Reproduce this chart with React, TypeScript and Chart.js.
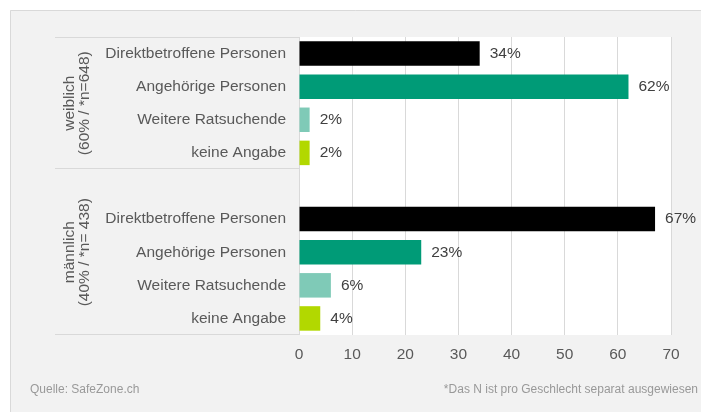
import React, { useEffect, useRef } from 'react';
import { Chart, registerables } from 'chart.js';

Chart.register(...registerables);

const categories = [
  'Direktbetroffene Personen',
  'Angehörige Personen',
  'Weitere Ratsuchende',
  'keine Angabe',
  '',
  'Direktbetroffene Personen',
  'Angehörige Personen',
  'Weitere Ratsuchende',
  'keine Angabe',
];
const values: (number | null)[] = [34, 62, 2, 2, null, 67, 23, 6, 4];
const barColors = ['#000000', '#009B77', '#7FCAB7', '#B2D800', '#ffffff', '#000000', '#009B77', '#7FCAB7', '#B2D800'];
const groupLabels = [
  ['weiblich', '(60% / *n=648)'],
  ['männlich', '(40% / *n= 438)'],
];
const groupRanges = [
  [0, 3],
  [4, 8],
];
const xMin = 0;
const xMax = 70;
const xStep = 10;
const sourceText = 'Quelle: SafeZone.ch';
const noteText = '*Das N ist pro Geschlecht separat ausgewiesen';

const FONT = '"Liberation Sans", Arial, sans-serif';
const FS = 15.5;

const decorPlugin = {
  id: 'decor',
  beforeDraw(chart: any) {
    const { ctx, chartArea, width, height } = chart;
    ctx.save();
    ctx.fillStyle = '#ffffff';
    ctx.fillRect(0, 0, width, height);
    ctx.fillStyle = '#f2f2f2';
    ctx.fillRect(10, 10, width - 10, height - 10);
    ctx.strokeStyle = '#d9d9d9';
    ctx.lineWidth = 1;
    ctx.beginPath();
    ctx.moveTo(10.5, height);
    ctx.lineTo(10.5, 10.5);
    ctx.lineTo(width, 10.5);
    ctx.stroke();
    ctx.fillStyle = '#ffffff';
    ctx.fillRect(chartArea.left, chartArea.top, chartArea.right - chartArea.left, chartArea.bottom - chartArea.top);
    ctx.restore();
  },
  afterDraw(chart: any) {
    const { ctx, chartArea, width } = chart;
    const y = chart.scales.y;
    const half = (y.getPixelForValue(1) - y.getPixelForValue(0)) / 2;
    ctx.save();
    ctx.strokeStyle = '#d9d9d9';
    ctx.lineWidth = 1;
    const boxLeft = 55;
    groupRanges.forEach(([s, e], gi) => {
      const top = y.getPixelForValue(s) - half;
      const bot = y.getPixelForValue(e) + half;
      ctx.beginPath();
      if (gi === 0) {
        ctx.moveTo(boxLeft, Math.round(top) + 0.5);
        ctx.lineTo(chartArea.left, Math.round(top) + 0.5);
      }
      ctx.moveTo(boxLeft, Math.round(bot) - 0.5);
      ctx.lineTo(chartArea.left, Math.round(bot) - 0.5);
      ctx.stroke();
      const cy = (top + bot) / 2;
      ctx.save();
      ctx.translate(77, cy);
      ctx.rotate(-Math.PI / 2);
      ctx.fillStyle = '#595959';
      ctx.font = `${FS}px ${FONT}`;
      ctx.textAlign = 'center';
      ctx.textBaseline = 'middle';
      ctx.fillText(groupLabels[gi][0], 0, -7.5);
      ctx.fillText(groupLabels[gi][1], 0, 7.5);
      ctx.restore();
    });
    ctx.font = `12px ${FONT}`;
    ctx.fillStyle = '#999999';
    ctx.textBaseline = 'middle';
    ctx.textAlign = 'left';
    ctx.fillText(sourceText, 30, 390);
    ctx.textAlign = 'right';
    ctx.fillText(noteText, width - 3, 390);
    ctx.restore();
  },
  afterDatasetsDraw(chart: any) {
    const { ctx } = chart;
    const meta = chart.getDatasetMeta(0);
    ctx.save();
    ctx.font = `${FS}px ${FONT}`;
    ctx.fillStyle = '#404040';
    ctx.textAlign = 'left';
    ctx.textBaseline = 'middle';
    meta.data.forEach((bar: any, i: number) => {
      const v = values[i];
      if (v === null || v === undefined) return;
      ctx.fillText(`${v}%`, bar.x + 10, bar.y);
    });
    ctx.restore();
  },
};

export default function App() {
  const ref = useRef<HTMLCanvasElement | null>(null);
  useEffect(() => {
    if (!ref.current) return;
    const chart = new Chart(ref.current, {
      type: 'bar',
      data: {
        labels: categories,
        datasets: [
          {
            data: values as any,
            backgroundColor: barColors,
            borderWidth: 0,
            barPercentage: 0.74,
            categoryPercentage: 1,
          },
        ],
      },
      options: {
        indexAxis: 'y',
        animation: false,
        responsive: false,
        maintainAspectRatio: false,
        layout: { padding: { left: 56, right: 30, top: 37, bottom: 47 } },
        plugins: {
          legend: { display: false },
          tooltip: { enabled: false },
          title: { display: false },
        },
        scales: {
          x: {
            min: xMin,
            max: xMax,
            ticks: {
              stepSize: xStep,
              color: '#595959',
              font: { family: FONT, size: FS },
              padding: 10,
            },
            grid: { color: '#d9d9d9', drawTicks: false },
            border: { display: false },
            afterFit(scale: any) {
              scale.height = 30;
            },
          },
          y: {
            ticks: {
              color: '#595959',
              font: { family: FONT, size: FS },
              padding: 13,
              autoSkip: false,
            },
            grid: { display: false, drawTicks: false },
            border: { display: false },
            afterFit(scale: any) {
              scale.width = 243;
            },
          },
        },
      },
      plugins: [decorPlugin],
    });
    return () => chart.destroy();
  }, []);
  return (
    <div style={{ position: 'fixed', left: 0, top: 0, width: 701, height: 412 }}>
      <canvas ref={ref} width={701} height={412} style={{ display: 'block' }} />
    </div>
  );
}
